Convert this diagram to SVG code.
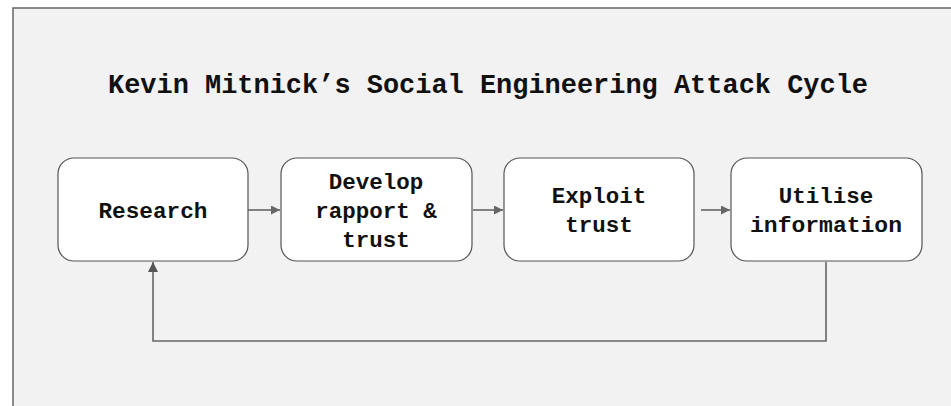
<svg xmlns="http://www.w3.org/2000/svg" width="951" height="406" viewBox="0 0 951 406">
<style>
.node rect{fill:#ffffff;stroke:#555555;stroke-width:1.2}
.lbl{font-family:"Liberation Mono","DejaVu Sans Mono",monospace;font-size:22.5px;font-weight:bold;fill:#111111;text-anchor:middle}
.title{font-family:"Liberation Mono","DejaVu Sans Mono",monospace;font-size:27px;font-weight:bold;fill:#111111;text-anchor:middle}
.conn{fill:none;stroke:#666666;stroke-width:1.6}
</style>
<defs>
<marker id="arr" viewBox="0 0 10 10" refX="10" refY="5" markerWidth="10" markerHeight="9" orient="auto" markerUnits="userSpaceOnUse">
<path d="M0,0 L10,5 L0,10 z" fill="#666666"/>
</marker>
<marker id="arrBig" viewBox="0 0 10 10" refX="10" refY="5" markerWidth="12" markerHeight="10" orient="auto" markerUnits="userSpaceOnUse">
<path d="M0,0 L10,5 L0,10 z" fill="#555555"/>
</marker>
</defs>
<rect x="0" y="0" width="951" height="406" fill="#ffffff"/>
<rect x="13" y="8" width="960" height="420" fill="#f2f2f2" stroke="#666666" stroke-width="1.5"/>
<text class="title" x="488" y="93" textLength="760" lengthAdjust="spacingAndGlyphs">Kevin Mitnick’s Social Engineering Attack Cycle</text>
<g id="connectors">
<line class="conn" x1="248" y1="210" x2="280" y2="210" marker-end="url(#arr)"/>
<line class="conn" x1="473" y1="210" x2="503" y2="210" marker-end="url(#arr)"/>
<line class="conn" x1="701" y1="210" x2="730" y2="210" marker-end="url(#arr)"/>
<polyline class="conn" points="826,262 826,341 153,341 153,262" marker-end="url(#arrBig)"/>
</g>
<g id="node-research" class="node">
<rect x="58" y="158" width="190" height="103" rx="16"/>
<text class="lbl" x="153" y="218" textLength="109" lengthAdjust="spacingAndGlyphs">Research</text>
</g>
<g id="node-develop" class="node">
<rect x="281" y="158" width="191" height="103" rx="16"/>
<text class="lbl" x="376" y="189">Develop</text>
<text class="lbl" x="376" y="218">rapport &amp;</text>
<text class="lbl" x="376" y="247">trust</text>
</g>
<g id="node-exploit" class="node">
<rect x="504" y="158" width="190" height="103" rx="16"/>
<text class="lbl" x="599" y="203">Exploit</text>
<text class="lbl" x="599" y="232">trust</text>
</g>
<g id="node-utilise" class="node">
<rect x="731" y="158" width="191" height="103" rx="16"/>
<text class="lbl" x="826" y="203">Utilise</text>
<text class="lbl" x="826" y="232" textLength="152" lengthAdjust="spacingAndGlyphs">information</text>
</g>
</svg>
